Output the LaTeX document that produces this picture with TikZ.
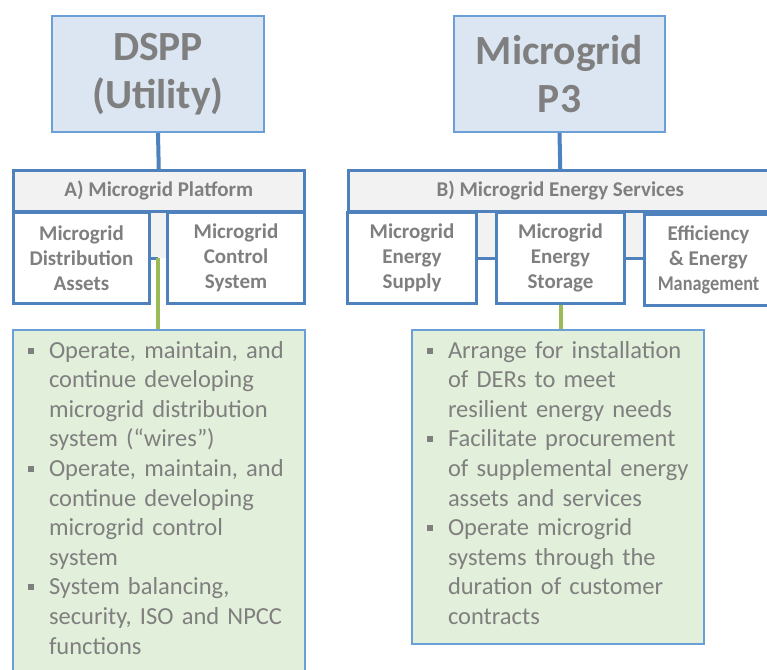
\documentclass[tikz,border=0pt]{standalone}
\usepackage{fontspec}
\setmainfont{Carlito}
\usetikzlibrary{positioning}

\definecolor{boxblue}{HTML}{4F81BD}
\definecolor{topedge}{HTML}{6A9FD8}
\definecolor{topblue}{HTML}{DCE6F2}
\definecolor{headgray}{HTML}{F2F2F2}
\definecolor{listgreen}{HTML}{E2EFDA}
\definecolor{linkgreen}{HTML}{9BBB59}
\definecolor{txtgray}{HTML}{7F7F7F}

\newcommand{\sqbul}{\makebox[21pt][l]{\raisebox{4.5pt}{\rule{6pt}{6pt}}}}
\newcommand{\hang}{\hspace*{21pt}}

\begin{document}
\begin{tikzpicture}[x=1pt, y=-1pt,
  topbox/.style={draw=topedge, line width=2pt, fill=topblue, text=txtgray,
    font=\fontsize{41.5}{48}\selectfont\bfseries, align=center,
    anchor=north west, inner sep=0pt},
  headbox/.style={draw=boxblue, line width=2.5pt, fill=headgray, text=txtgray,
    font=\fontsize{21}{25}\selectfont\bfseries, anchor=north west,
    inner sep=0pt, minimum height=41pt},
  unitbox/.style={draw=boxblue, line width=3pt, fill=white, text=txtgray,
    font=\fontsize{21}{25}\selectfont\bfseries, align=center,
    anchor=north west, inner sep=0pt, minimum height=91pt},
  listbox/.style={draw=topedge, line width=2pt, fill=listgreen, text=txtgray,
    font=\fontsize{24.5}{29.6}\selectfont, align=left, anchor=north west,
    inner xsep=15pt, inner ysep=11pt, text width=262pt},
  uplink/.style={boxblue, line width=4pt},
  sidelink/.style={boxblue, line width=3pt},
  downlink/.style={linkgreen, line width=4pt}]
  \useasboundingbox (0,0) rectangle (767,669);
  \clip (0,0) rectangle (767,669);

  % Top boxes
  \node[topbox, minimum width=212pt, minimum height=116pt] (dspp) at (51,15) {DSPP\\(Utility)};
  \node[topbox, minimum width=211pt, minimum height=116pt] (ppp) at (453,15) {Microgrid\\P3};

  % Gray band behind the units
  \fill[headgray] (12,190) rectangle (303,258);
  \fill[headgray] (347,190) rectangle (771,258);

  % Headers
  \node[headbox, minimum width=291pt] (platform) at (12,169) {A) Microgrid Platform};
  \node[headbox, minimum width=424pt] (services) at (347,169) {B) Microgrid Energy Services};

  % Units
  \node[unitbox, minimum width=136pt] (distrib) at (12,211) {Microgrid\\Distribution\\Assets};
  \node[unitbox, minimum width=137pt] (control) at (166,211) {Microgrid\\Control\\System};
  \node[unitbox, minimum width=129pt] (supply) at (346,211) {Microgrid\\Energy\\Supply};
  \node[unitbox, minimum width=128pt] (storage) at (495,211) {Microgrid\\Energy\\Storage};
  \node[unitbox, minimum width=128pt] (effic) at (643,213)
    {Efficiency\\\& Energy\\\scalebox{0.87}[1]{Management}};

  % Links
  \draw[uplink] (dspp.south) -- (platform.north);
  \draw[uplink] (ppp.south) -- (services.north);
  \coordinate (hubA) at (158,258);
  \draw[sidelink] (distrib.east |- hubA) -- (hubA);
  \draw[sidelink] (supply.east) -- (storage.west);
  \draw[sidelink] (storage.east) -- (storage.east -| effic.west);

  % Task lists
  \node[listbox] (tasksA) at (12,329) {%
    \sqbul Operate, maintain, and\\
    \hang continue developing\\
    \hang microgrid distribution\\
    \hang system (“wires”)\\
    \sqbul Operate, maintain, and\\
    \hang continue developing\\
    \hang microgrid control\\
    \hang system\\
    \sqbul System balancing,\\
    \hang security, ISO and NPCC\\
    \hang functions\strut};
  \node[listbox] (tasksB) at (411,329) {%
    \sqbul Arrange for installation\\
    \hang of DERs to meet\\
    \hang resilient energy needs\\
    \sqbul Facilitate procurement\\
    \hang of supplemental energy\\
    \hang assets and services\\
    \sqbul Operate microgrid\\
    \hang systems through the\\
    \hang duration of customer\\
    \hang contracts\strut};

  \draw[downlink] (hubA) -- (hubA |- tasksA.north);
  \draw[downlink] (storage.south) -- (storage.south |- tasksB.north);
\end{tikzpicture}
\end{document}
